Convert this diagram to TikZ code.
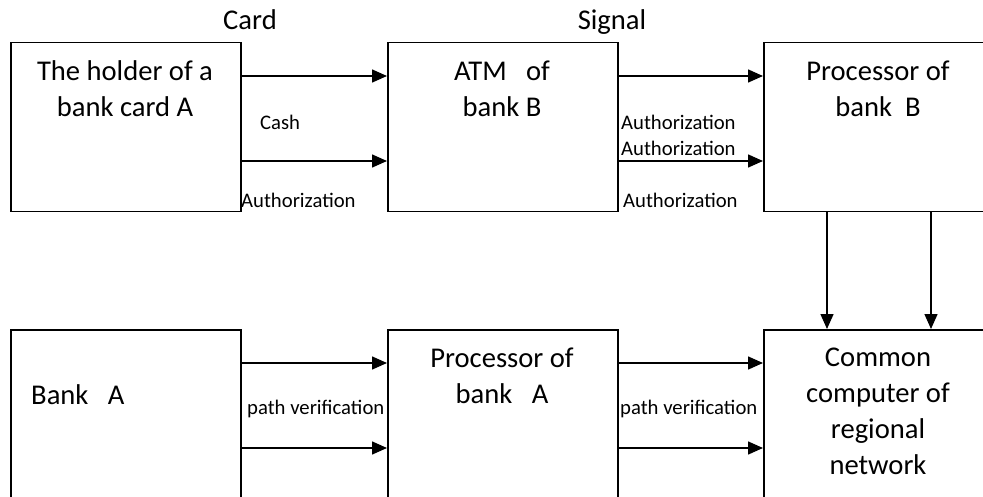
\documentclass[tikz,border=0pt]{standalone}
\usepackage{fontspec}
\setmainfont{Carlito}
\usetikzlibrary{arrows.meta}
\begin{document}
\begin{tikzpicture}[x=1pt,y=-1pt,
  box/.style={draw, line width=1.5pt, minimum width=230pt, minimum height=169pt,
              anchor=north west, inner sep=0pt},
  big/.style={font=\fontsize{28.6}{36}\selectfont, align=center, inner sep=0pt, anchor=base},
  small/.style={font=\fontsize{20.7}{25}\selectfont, inner sep=0pt, anchor=base west},
  arr/.style={line width=1.5pt, -{Triangle[length=15pt,width=13pt]}}]
\useasboundingbox (0,0) rectangle (983,497);
\clip (0,0) rectangle (983,497);

% boxes
\node[box] (holder) at (10,42) {};
\node[box] (atm) at (387,42) {};
\node[box] (procB) at (763,42) {};
\node[box] (bankA) at (10,329) {};
\node[box] (procA) at (387,329) {};
\node[box] (common) at (763,329) {};

% box texts (placed at the baseline of their last line)
\node[big] (tholder) at (125,117) {The holder of a\\bank card A};
\node[big] (tatm) at (502,117) {ATM\ \ \ of\\bank B};
\node[big] (tprocB) at (878,117) {Processor of\\bank\ \ B};
\node[big,anchor=base west] (tbankA) at (31,404) {Bank\ \ \ A};
\node[big] (tprocA) at (502,403) {Processor of\\bank\ \ \ A};
\node[big] (tcommon) at (878,474) {Common\\computer of\\regional\\network};

% top labels
\node[big] (lcard) at (250,30) {Card};
\node[big] (lsignal) at (612,30) {Signal};

% arrow labels
\node[small] (lcash) at (260,130) {Cash};
\node[small] (lauth1) at (241,208) {Authorization};
\node[small] (lauth2) at (621,130) {Authorization};
\node[small] (lauth3) at (621,156) {Authorization};
\node[small] (lauth4) at (623,208) {Authorization};
\node[small] (lpath1) at (247,414) {path verification};
\node[small] (lpath2) at (620,414) {path verification};

% horizontal connectors
\foreach \a/\b in {holder/atm, atm/procB, bankA/procA, procA/common}{
  \draw[arr] ([yshift=-34pt]\a.north east) -- ([yshift=-34pt]\b.north west);
  \draw[arr] ([yshift=-119pt]\a.north east) -- ([yshift=-119pt]\b.north west);
}
% vertical connectors
\draw[arr] ([xshift=64pt]procB.south west) -- ([xshift=64pt]common.north west);
\draw[arr] ([xshift=168pt]procB.south west) -- ([xshift=168pt]common.north west);
\end{tikzpicture}
\end{document}
